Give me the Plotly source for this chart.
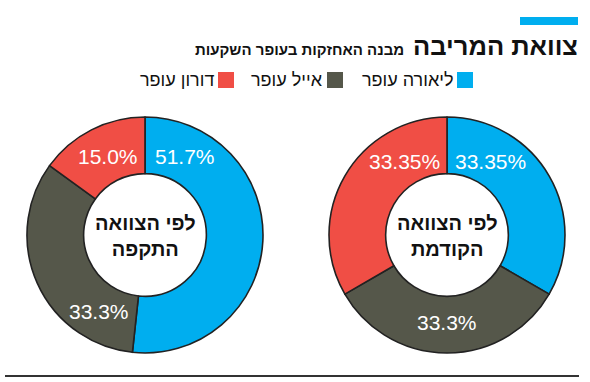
import plotly.graph_objects as go

names = ["ליאורה עופר", "אייל עופר", "דורון עופר"]
colors = ["#00AEEF", "#55574A", "#F04E45"]
valid_will = [51.7, 33.3, 15.0]
previous_will = [33.35, 33.3, 33.35]
center_left = "לפי הצוואה<br>התקפה"
center_right = "לפי הצוואה<br>הקודמת"
title = "צוואת המריבה"
subtitle = "מבנה האחזקות בעופר השקעות"

W, H = 590, 382
FONT = "Liberation Sans, Arial, sans-serif"

def px(x):
    return x / W

def py(y):
    return 1 - y / H

fig = go.Figure()
line = dict(color="#222222", width=1.6)
fig.add_trace(go.Pie(values=valid_will, labels=names, hole=0.52, sort=False,
                     direction="clockwise", rotation=0,
                     marker=dict(colors=colors, line=line), textinfo="none",
                     hoverinfo="label+value",
                     domain=dict(x=[px(27), px(263)], y=[py(353), py(117)])))
fig.add_trace(go.Pie(values=previous_will, labels=names, hole=0.52, sort=False,
                     direction="clockwise", rotation=0,
                     marker=dict(colors=colors, line=line), textinfo="none",
                     hoverinfo="label+value",
                     domain=dict(x=[px(329), px(565)], y=[py(353), py(117)])))

ann = []
def txt(x, y, s, size, color="#111111", bold=False, xanchor="center"):
    if bold:
        s = "<b>" + s + "</b>"
    ann.append(dict(x=px(x), y=py(y), xref="paper", yref="paper", text=s,
                    showarrow=False, xanchor=xanchor, yanchor="middle",
                    font=dict(family=FONT, size=size, color=color)))

# title and subtitle
txt(580, 46, title, 25.5, bold=True, xanchor="right")
txt(406, 49, subtitle, 15, bold=True, xanchor="right")

# slice labels
left_pos = [(185, 157), (99, 311), (108, 157)]
right_pos = [(490, 161), (447, 322), (405, 161)]
for v, (x, y) in zip(valid_will, left_pos):
    txt(x, y, f"{v}%", 21, color="white")
for v, (x, y) in zip(previous_will, right_pos):
    txt(x, y, f"{v}%", 21, color="white")

# center texts
txt(145, 236, center_left, 20, bold=True)
txt(447, 236, center_right, 20, bold=True)

# legend
shapes = []
legend_sq = [(457, 473), (327, 343), (218, 234)]
for name, col, (x0, x1) in zip(names, colors, legend_sq):
    shapes.append(dict(type="rect", xref="paper", yref="paper",
                       x0=px(x0), x1=px(x1), y0=py(88), y1=py(72),
                       fillcolor=col, line=dict(width=0)))
    txt(x0 - 2, 80, name, 18, xanchor="right")

# top blue bar
shapes.append(dict(type="rect", xref="paper", yref="paper",
                   x0=px(520), x1=px(578), y0=py(25), y1=py(17),
                   fillcolor="#00AEEF", line=dict(width=0)))
# bottom rule
shapes.append(dict(type="line", xref="paper", yref="paper",
                   x0=px(5), x1=px(579), y0=py(376), y1=py(376),
                   line=dict(color="#333333", width=2)))

fig.update_layout(width=W, height=H, margin=dict(l=0, r=0, t=0, b=0),
                  paper_bgcolor="white", plot_bgcolor="white",
                  showlegend=False, annotations=ann, shapes=shapes,
                  font=dict(family=FONT))
fig.write_html("out.html", config={"displayModeBar": False},
               post_script="document.body.style.margin='0';document.body.style.overflow='hidden';")
